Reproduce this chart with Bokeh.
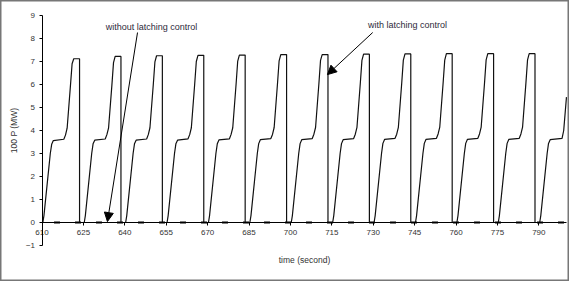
from bokeh.plotting import figure
from bokeh.models import LinearAxis, FixedTicker, Label, Arrow, NormalHead, Range1d
from bokeh.embed import file_html
from bokeh.resources import INLINE

# ---------------- data ----------------
x_ticks = [610, 625, 640, 655, 670, 685, 700, 715, 730, 745, 760, 775, 790]
y_ticks = [-1, 0, 1, 2, 3, 4, 5, 6, 7, 8, 9]

# power with latching control (one row per wave cycle)
t_latch = [
    610.3, 610.7, 613.0, 613.5, 614.1, 617.9, 618.5, 619.1, 620.3, 620.9, 621.5, 623.6, 623.6,
    625.3, 625.7, 628.0, 628.5, 629.1, 632.9, 633.5, 634.1, 635.3, 635.9, 636.5, 638.6, 638.6,
    640.3, 640.7, 643.0, 643.5, 644.1, 647.9, 648.5, 649.1, 650.3, 650.9, 651.5, 653.6, 653.6,
    655.3, 655.7, 658.0, 658.5, 659.1, 662.9, 663.5, 664.1, 665.3, 665.9, 666.5, 668.6, 668.6,
    670.3, 670.7, 673.0, 673.5, 674.1, 677.9, 678.5, 679.1, 680.3, 680.9, 681.5, 683.6, 683.6,
    685.3, 685.7, 688.0, 688.5, 689.1, 692.9, 693.5, 694.1, 695.3, 695.9, 696.5, 698.6, 698.6,
    700.3, 700.7, 703.0, 703.5, 704.1, 707.9, 708.5, 709.1, 710.3, 710.9, 711.5, 713.6, 713.6,
    715.3, 715.7, 718.0, 718.5, 719.1, 722.9, 723.5, 724.1, 725.3, 725.9, 726.5, 728.6, 728.6,
    730.3, 730.7, 733.0, 733.5, 734.1, 737.9, 738.5, 739.1, 740.3, 740.9, 741.5, 743.6, 743.6,
    745.3, 745.7, 748.0, 748.5, 749.1, 752.9, 753.5, 754.1, 755.3, 755.9, 756.5, 758.6, 758.6,
    760.3, 760.7, 763.0, 763.5, 764.1, 767.9, 768.5, 769.1, 770.3, 770.9, 771.5, 773.6, 773.6,
    775.3, 775.7, 778.0, 778.5, 779.1, 782.9, 783.5, 784.1, 785.3, 785.9, 786.5, 788.6, 788.6,
    790.3, 790.7, 793.0, 793.5, 794.1, 798.4, 799.0, 800.0,
]
p_latch = [
    0, 0.3, 3.0, 3.40, 3.56, 3.62, 3.80, 4.10, 5.95, 6.90, 7.12, 7.12, 0,
    0, 0.3, 3.0, 3.42, 3.58, 3.63, 3.82, 4.10, 5.95, 6.95, 7.22, 7.22, 0,
    0, 0.3, 3.0, 3.42, 3.58, 3.63, 3.82, 4.12, 5.98, 6.98, 7.25, 7.25, 0,
    0, 0.3, 3.0, 3.42, 3.58, 3.64, 3.82, 4.12, 6.00, 7.00, 7.27, 7.27, 0,
    0, 0.3, 3.0, 3.42, 3.59, 3.64, 3.83, 4.12, 6.00, 7.02, 7.28, 7.28, 0,
    0, 0.3, 3.0, 3.43, 3.60, 3.65, 3.83, 4.13, 6.02, 7.03, 7.30, 7.30, 0,
    0, 0.3, 3.0, 3.43, 3.60, 3.65, 3.84, 4.13, 6.02, 7.05, 7.30, 7.30, 0,
    0, 0.3, 3.0, 3.43, 3.60, 3.65, 3.84, 4.14, 6.03, 7.05, 7.32, 7.32, 0,
    0, 0.3, 3.0, 3.44, 3.61, 3.66, 3.84, 4.14, 6.03, 7.06, 7.33, 7.33, 0,
    0, 0.3, 3.0, 3.44, 3.61, 3.66, 3.85, 4.15, 6.04, 7.06, 7.34, 7.34, 0,
    0, 0.3, 3.0, 3.44, 3.61, 3.66, 3.85, 4.15, 6.04, 7.07, 7.34, 7.34, 0,
    0, 0.3, 3.0, 3.44, 3.61, 3.66, 3.85, 4.15, 6.05, 7.07, 7.34, 7.34, 0,
    0, 0.3, 3.0, 3.44, 3.60, 3.66, 4.00, 5.45,
]

# power without latching control (stays at zero)
t_nolatch = [610, 800]
p_nolatch = [0, 0]

FONT = "Liberation Sans"

p = figure(width=569, height=281, output_backend="svg", toolbar_location=None,
           x_range=Range1d(594.96, 801.1), y_range=Range1d(-2.565, 9.652),
           x_axis_location=None, y_axis_location=None, min_border=0,
           background_fill_color="white", border_fill_color="white")
p.grid.visible = False
p.outline_line_color = "#777777"
p.outline_line_width = 2

# axes crossing at (610, 0)
xa = LinearAxis(fixed_location=0, bounds=(610, 800), ticker=FixedTicker(ticks=x_ticks),
                axis_label="time (second)")
ya = LinearAxis(fixed_location=610, bounds=(-1, 9), ticker=FixedTicker(ticks=y_ticks),
                axis_label="100 P (MW)")
for ax in (xa, ya):
    ax.axis_line_color = "black"
    ax.axis_line_width = 1
    ax.major_tick_line_color = "black"
    ax.major_tick_out = 3
    ax.major_tick_in = 0
    ax.minor_tick_out = 0
    ax.minor_tick_in = 0
    ax.major_label_text_font = FONT
    ax.major_label_text_font_size = "8px"
    ax.major_label_text_color = "#333333"
    ax.major_label_standoff = 4
    ax.axis_label_text_font = FONT
    ax.axis_label_text_font_size = "8.5px"
    ax.axis_label_text_font_style = "normal"
    ax.axis_label_text_color = "#333333"
xa.axis_label_standoff = 17
ya.axis_label_standoff = 4
p.add_layout(xa, "below")
p.add_layout(ya, "left")

# series
p.line(t_nolatch, p_nolatch, line_color="black", line_width=2, line_dash="6 15",
       line_dash_offset=9)
p.line(t_latch, p_latch, line_color="#111111", line_width=1.2)

# annotations
p.add_layout(Label(x=649.7, y=8.48, text="without latching control", text_font=FONT,
                   text_font_size="9px", text_color="#2e2a3a", text_align="center",
                   text_baseline="middle"))
p.add_layout(Label(x=742.4, y=8.58, text="with latching control", text_font=FONT,
                   text_font_size="9px", text_color="#2e2a3a", text_align="center",
                   text_baseline="middle"))
p.add_layout(Arrow(x_start=644.6, y_start=8.26, x_end=633.7, y_end=0.04,
                   line_color="black", line_width=1,
                   end=NormalHead(size=9, fill_color="black", line_color="black")))
p.add_layout(Arrow(x_start=729.8, y_start=8.26, x_end=713.4, y_end=6.43,
                   line_color="black", line_width=1,
                   end=NormalHead(size=9, fill_color="black", line_color="black")))

open("out.html", "w").write(file_html(p, INLINE))
